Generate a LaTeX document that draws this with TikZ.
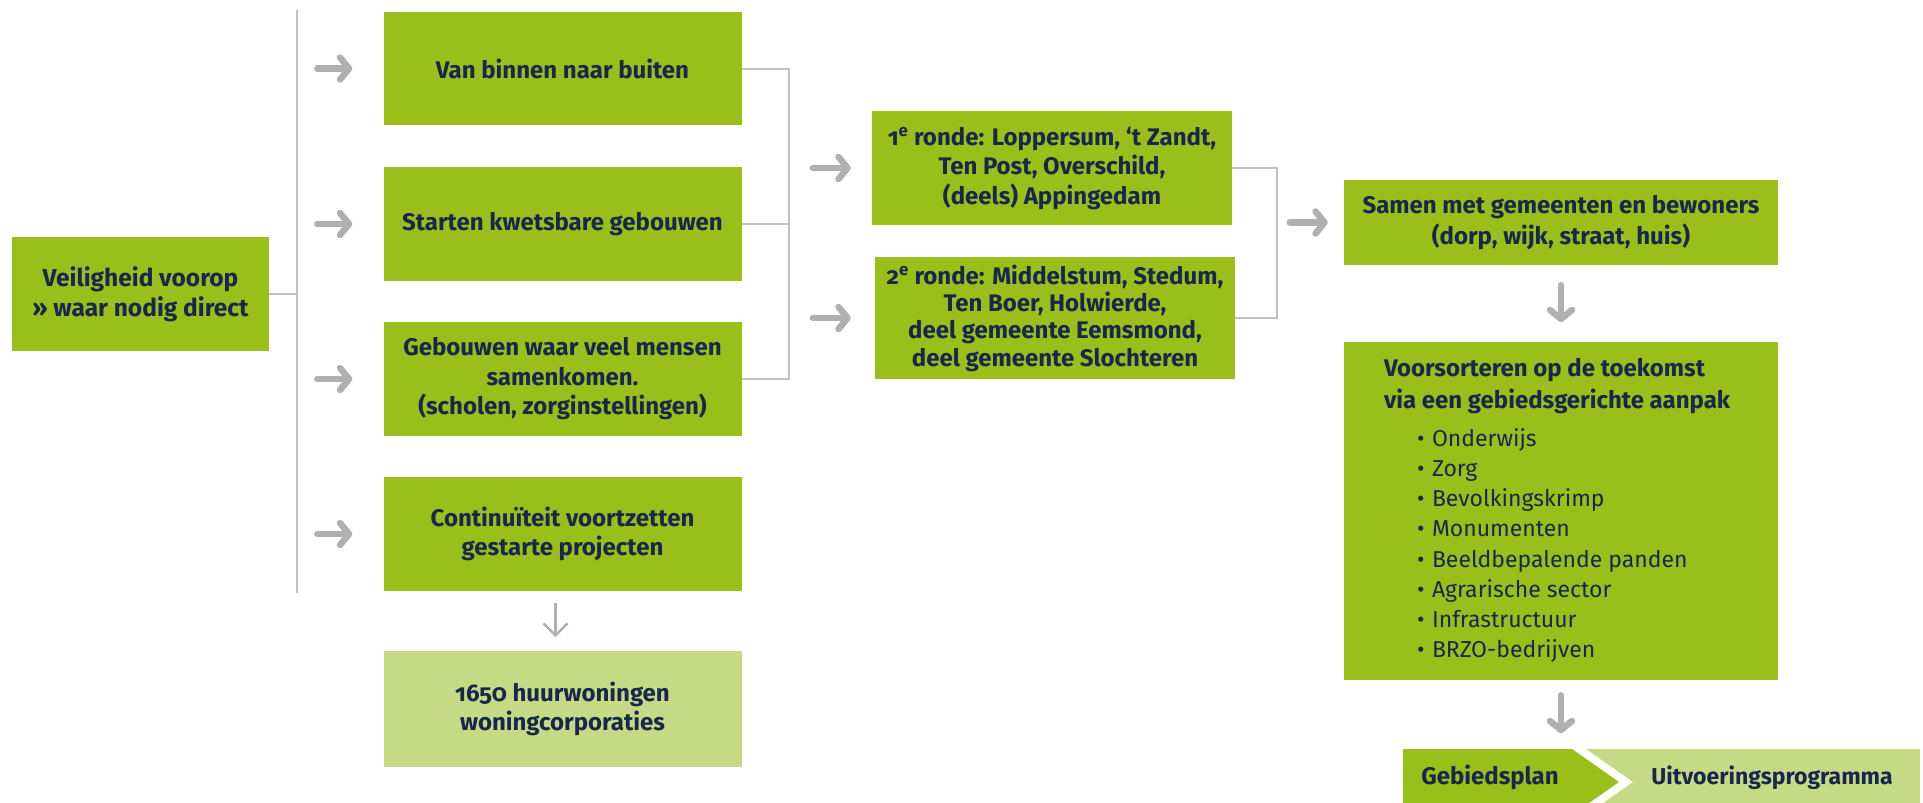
\documentclass[tikz,border=0pt]{standalone}
\usepackage{fontspec}
\setmainfont[Numbers=OldStyle]{Fira Sans}
\usetikzlibrary{arrows.meta,calc}
\definecolor{rgreen}{RGB}{155,191,26}
\definecolor{lgreen}{RGB}{198,218,134}
\definecolor{navy}{RGB}{22,40,76}
\definecolor{agray}{RGB}{176,176,176}
\definecolor{lgray}{RGB}{192,192,192}
\newcommand{\itm}[1]{\makebox[354pt][l]{\mdseries\fontsize{23}{30.2}\selectfont\hspace*{33pt}\makebox[15pt][l]{•}#1}}
\newcommand{\ttl}[1]{\makebox[354pt][l]{#1}}
\begin{document}
\begin{tikzpicture}[x=1pt,y=-1pt,
  vbox/.style={fill=rgreen, text=navy, font=\bfseries\fontsize{24}{29.5}\selectfont, inner sep=0pt},
  box/.style={vbox, align=center},
  lbox/.style={box, fill=lgreen},
  gline/.style={draw=lgray, line width=2pt},
  tarrow/.style={draw=agray, line width=6.5pt, line cap=round, -{Straight Barb[length=9pt,width=22pt,round]}},
  narrow/.style={draw=agray, line width=2.5pt, -{Straight Barb[length=12pt,width=24pt]}},
  lab/.style={text=navy, font=\bfseries\fontsize{24}{29}\selectfont, inner sep=0pt}
]
\useasboundingbox (0,0) rectangle (1923,803);
% column 1
\node[box, minimum width=257pt, minimum height=114pt, font=\bfseries\fontsize{24.5}{30}\selectfont] (vei) at (140.5,294) {Veiligheid voorop\\>> waar nodig direct};
% column 2
\node[box, minimum width=358pt, minimum height=113pt] (b1) at (562.5,68.5) {Van binnen naar buiten};
\node[box, minimum width=358pt, minimum height=114pt] (b2) at (562.5,224) {Starten kwetsbare gebouwen};
\node[box, minimum width=358pt, minimum height=114pt] (b3) at (562.5,379) {Gebouwen waar veel mensen\\samenkomen.\\(scholen, zorginstellingen)};
\node[box, minimum width=358pt, minimum height=114pt] (b4) at (562.5,534) {Continuïteit voortzetten\\gestarte projecten};
\node[lbox, minimum width=358pt, minimum height=116pt] (b5) at (562.5,709) {1650 huurwoningen\\woningcorporaties};
% column 3
\node[box, minimum width=360pt, minimum height=114pt, font=\bfseries\fontsize{24}{29.5}\selectfont] (r1) at (1052,168) {1\textsuperscript{e} ronde: Loppersum, ‘t Zandt,\\Ten Post, Overschild,\\(deels) Appingedam};
\node[box, minimum width=360pt, minimum height=122pt, font=\bfseries\fontsize{24}{27.3}\selectfont] (r2) at (1055,318) {2\textsuperscript{e} ronde: Middelstum, Stedum,\\Ten Boer, Holwierde,\\deel gemeente Eemsmond,\\deel gemeente Slochteren};
% column 4
\node[box, minimum width=434pt, minimum height=85pt, font=\bfseries\fontsize{24}{31}\selectfont] (samen) at (1561,222.5) {Samen met gemeenten en bewoners\\(dorp, wijk, straat, huis)};
\node[vbox, minimum width=434pt, minimum height=338pt, font=\bfseries\fontsize{24}{30.2}\selectfont] (voor) at (1561,511) {\begin{tabular}{@{}l@{}}
\ttl{Voorsorteren op de toekomst}\\[1.8pt]
\ttl{via een gebiedsgerichte aanpak}\\[7.8pt]
\itm{Onderwijs}\\
\itm{Zorg}\\
\itm{Bevolkingskrimp}\\
\itm{Monumenten}\\
\itm{Beeldbepalende panden}\\
\itm{Agrarische sector}\\
\itm{Infrastructuur}\\
\itm{BRZO-bedrijven}
\end{tabular}};
% bottom chevrons
\fill[rgreen] (1403,749) -- (1572,749) -- (1619,782) -- (1572,815) -- (1403,815) -- cycle;
\fill[lgreen] (1586,749) -- (1920,749) -- (1920,815) -- (1586,815) -- (1633,782) -- cycle;
\node[lab, anchor=mid] (gp) at (1490,782) {Gebiedsplan};
\node[lab, anchor=mid, font=\bfseries\fontsize{23}{29}\selectfont] (up) at (1772,782) {Uitvoeringsprogramma};
% spine
\coordinate (spT) at (297,10);
\coordinate (spB) at (297,593);
\draw[gline] (spT) -- (spB);
\draw[gline] (vei.east) -- (vei.east -| spT);
% bracket 1
\coordinate (k1) at (789,0);
\draw[gline] (b1.east) -- (b1.east -| k1) -- (b3.east -| k1) -- (b3.east);
\draw[gline] (b2.east) -- (b2.east -| k1);
% bracket 2
\coordinate (k2) at (1277,0);
\draw[gline] (r1.east) -- (r1.east -| k2) -- (r2.east -| k2) -- (r2.east);
% thick arrows
\draw[tarrow] ($(b1.west)+(-66,0)$) -- ($(b1.west)+(-31,0)$);
\draw[tarrow] ($(b2.west)+(-66,0)$) -- ($(b2.west)+(-31,0)$);
\draw[tarrow] ($(b3.west)+(-66,0)$) -- ($(b3.west)+(-31,0)$);
\draw[tarrow] ($(b4.west)+(-66,0)$) -- ($(b4.west)+(-31,0)$);
\draw[tarrow] ($(r1.west)+(-59,0)$) -- ($(r1.west)+(-21,0)$);
\draw[tarrow] ($(r1.west |- r2.west)+(-59,0)$) -- ($(r1.west |- r2.west)+(-21,0)$);
\draw[tarrow] ($(samen.west)+(-54,0)$) -- ($(samen.west)+(-16,0)$);
\draw[tarrow] ($(samen.south)+(0,20)$) -- ($(samen.south)+(0,57)$);
\draw[tarrow] ($(voor.south)+(0,15)$) -- ($(voor.south)+(0,53)$);
\draw[narrow] ($(b4.south)+(-7,12)$) -- ($(b4.south)+(-7,46)$);
\end{tikzpicture}
\end{document}
